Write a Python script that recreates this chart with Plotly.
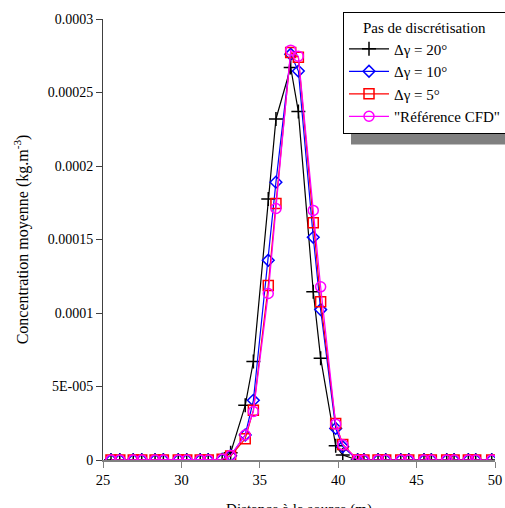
import plotly.graph_objects as go

# Distance à la source (m) – common abscissae of all series
distance = [25.51, 26.07, 26.93, 27.47, 28.32, 28.85, 29.80, 30.34, 31.20, 31.71,
            32.60, 33.14, 34.07, 34.59, 35.54, 36.03, 36.97, 37.46, 38.41, 38.88,
            39.84, 40.29, 41.24, 41.64, 42.54, 43.03, 43.99, 44.50, 45.47, 45.94,
            46.92, 47.39, 48.30, 48.77, 49.79]

zeros_left = [0.0] * 10
zeros_right = [0.0] * 12

c_20 = zeros_left + [0.0, 5.0e-6, 3.72e-5, 6.7e-5, 1.776e-4, 2.32e-4, 2.67e-4, 2.37e-4,
                     1.145e-4, 6.93e-5, 9.7e-6, 3.4e-6, 0.0] + zeros_right
c_10 = zeros_left + [5e-7, 2.9e-6, 1.7e-5, 4.06e-5, 1.359e-4, 1.89e-4, 2.76e-4, 2.646e-4,
                     1.515e-4, 1.023e-4, 2.15e-5, 9.0e-6, 0.0] + zeros_right
c_5 = zeros_left + [5e-7, 2.7e-6, 1.44e-5, 3.39e-5, 1.187e-4, 1.745e-4, 2.772e-4, 2.74e-4,
                    1.614e-4, 1.077e-4, 2.48e-5, 1.06e-5, 0.0] + zeros_right
c_cfd = zeros_left + [5e-7, 3.0e-6, 1.7e-5, 3.3e-5, 1.133e-4, 1.711e-4, 2.788e-4, 2.747e-4,
                      1.698e-4, 1.178e-4, 2.44e-5, 1.04e-5, 0.0] + zeros_right

series_names = ["Δγ = 20°", "Δγ = 10°", "Δγ = 5°", "\"Référence CFD\""]
series_values = [c_20, c_10, c_5, c_cfd]
series_colors = ["#000000", "#0000FF", "#FF0000", "#FF00FF"]
series_symbols = ["cross-thin-open", "diamond-open", "square-open", "circle-open"]
series_sizes = [10, 9, 10, 10]

y_tickvals = [0, 0.00005, 0.0001, 0.00015, 0.0002, 0.00025, 0.0003]
y_ticktext = ["0", "5E-005", "0.0001", "0.00015", "0.0002", "0.00025", "0.0003"]
x_tickvals = [25, 30, 35, 40, 45, 50]

FONT = "Liberation Serif"

# plot area wanted at x 103..495, y 17..460 in the window (page margin removed below)
PL, PT, PW, PH = 103, 17, 392, 443
FW, FH = 530, 518

fig = go.Figure()
for name, vals, col, sym, sz in zip(series_names, series_values, series_colors,
                                    series_symbols, series_sizes):
    fig.add_trace(go.Scatter(
        x=distance, y=vals, name=name, mode="lines+markers",
        line=dict(color=col, width=1.2),
        marker=dict(symbol=sym, size=sz, color=col, line=dict(color=col, width=1.5)),
    ))

def px(xw):
    return (xw - PL) / PW

def py(yw):
    return (PT + PH - yw) / PH

fig.update_layout(
    width=FW, height=FH,
    margin=dict(l=PL, r=FW - PW - PL, t=PT, b=FH - PH - PT),
    paper_bgcolor="white", plot_bgcolor="white",
    font=dict(family=FONT, size=14, color="#000000"),
    showlegend=True,
    legend=dict(
        x=px(343), y=py(10), xanchor="left", yanchor="top",
        bgcolor="white", bordercolor="#000000", borderwidth=1,
        font=dict(family=FONT, size=15),
        title=dict(text="Pas de discrétisation", side="top center",
                   font=dict(family=FONT, size=15)),
        tracegroupgap=0, itemsizing="trace", itemwidth=40,
    ),
    xaxis=dict(
        range=[25, 50], tickvals=x_tickvals, showgrid=False, zeroline=False,
        showline=True, linecolor="#808080", linewidth=1.5,
        ticks="outside", ticklen=6, tickcolor="#808080",
        tickfont=dict(family=FONT, size=14.5),
        title=dict(text="Distance à la source (m)", font=dict(family=FONT, size=15),
                   standoff=25),
        automargin=False,
    ),
    yaxis=dict(
        range=[0, 0.0003], tickvals=y_tickvals, ticktext=y_ticktext,
        showgrid=False, zeroline=False,
        showline=True, linecolor="#404040", linewidth=1,
        ticks="outside", ticklen=6, tickcolor="#404040",
        tickfont=dict(family=FONT, size=14),
        title=dict(text="Concentration moyenne (kg.m<sup>-3</sup>)",
                   font=dict(family=FONT, size=16), standoff=15),
        automargin=False,
    ),
)

# legend drop shadow
fig.add_shape(type="rect", xref="paper", yref="paper",
              x0=px(351), x1=px(540),
              y0=py(143), y1=py(120),
              fillcolor="#808080", line=dict(width=0), layer="below")

fig.write_html(
    "out.html",
    config={"displayModeBar": False},
    post_script="document.body.style.margin='0px';document.body.style.overflow='hidden';",
)
